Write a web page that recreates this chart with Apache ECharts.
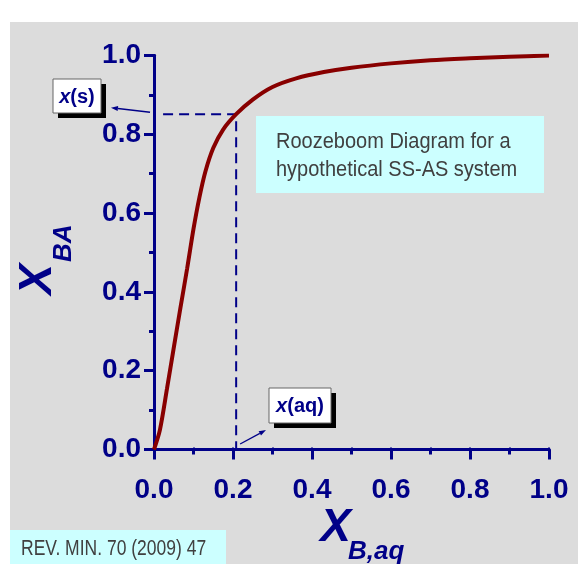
<!DOCTYPE html>
<html>
<head>
<meta charset="utf-8">
<script src="https://cdn.jsdelivr.net/npm/echarts@6/dist/echarts.min.js"></script>
<style>
html,body{margin:0;padding:0;background:#fff;}
#c{width:578px;height:564px;}
</style>
</head>
<body>
<div id="c"></div>
<script>
// ---- data ----
const xValues = [0, 0.015, 0.033, 0.05, 0.067, 0.084, 0.1, 0.115, 0.13, 0.15, 0.175, 0.208, 0.25, 0.3, 0.36, 0.43, 0.5, 0.6, 0.7, 0.8, 0.9, 1.0];
const yValues = [0, 0.05, 0.155, 0.258, 0.36, 0.46, 0.56, 0.64, 0.705, 0.765, 0.812, 0.851, 0.888, 0.92, 0.942, 0.958, 0.969, 0.98, 0.988, 0.993, 0.997, 1.0];
const xTickLabels = ['0.0', '0.2', '0.4', '0.6', '0.8', '1.0'];
const yTickLabels = ['0.0', '0.2', '0.4', '0.6', '0.8', '1.0'];
const guideX = 0.208;      // x(aq)
const guideY = 0.851;      // x(s)
const guideStartX = 0.023;
const sArrow = [[-0.010, 0.856], [-0.109, 0.8675]];   // tail, head
const aqArrow = [[0.218, 0.014], [0.2835, 0.0495]];   // tail, head
const noteLines = ['Roozeboom Diagram for a', 'hypothetical SS-AS system'];
const sourceText = 'REV. MIN. 70 (2009) 47';

const NAVY = '#000088';
const GRAY = '#dcdcdc';
const CURVE = '#880000';
const FONT = '"Liberation Sans", Arial, sans-serif';

const chart = echarts.init(document.getElementById('c'), null, {renderer: 'canvas'});

const curveData = xValues.map((x, i) => [x, yValues[i]]);

function mainAxis(pos, labels, margin) {
  return {
    type: 'value', min: 0, max: 1, interval: 0.2, position: pos,
    axisLine: {lineStyle: {color: NAVY, width: 3}},
    axisTick: {length: 10, lineStyle: {color: NAVY, width: 3}},
    minorTick: {show: true, splitNumber: 2, length: 5, lineStyle: {color: NAVY, width: 3}},
    splitLine: {show: false},
    axisLabel: {
      formatter: (v) => labels[Math.round(v / 0.2)],
      fontSize: 28, fontWeight: 'bold', color: NAVY, fontFamily: FONT, margin: margin
    }
  };
}
function frameAxis(pos) {
  return {
    type: 'value', min: 0, max: 1, interval: 0.1, position: pos,
    axisLine: {lineStyle: {color: NAVY, width: 3}},
    axisTick: {length: 2, lineStyle: {color: NAVY, width: 2}},
    splitLine: {show: false},
    axisLabel: {show: false}
  };
}

chart.setOption({
  animation: false,
  backgroundColor: GRAY,
  grid: {left: 154, top: 55.5, width: 395, height: 394},
  xAxis: [mainAxis('bottom', xTickLabels, 27), frameAxis('top')],
  yAxis: [mainAxis('left', yTickLabels, 13), frameAxis('right')],
  series: [
    {
      type: 'line', data: curveData, smooth: 0.3,
      showSymbol: false, symbol: 'none', z: 5,
      lineStyle: {color: CURVE, width: 4}
    },
    {
      type: 'line', data: [[guideStartX, guideY], [guideX, guideY], [guideX, 0]],
      showSymbol: false, symbol: 'none', z: 3,
      lineStyle: {color: NAVY, width: 2, type: [10, 6]}
    }
  ]
});

function px(p) { return chart.convertToPixel({gridIndex: 0}, p); }
function arrow(tail, head) {
  const a = px(tail), b = px(head);
  const dx = b[0] - a[0], dy = b[1] - a[1];
  const L = Math.sqrt(dx * dx + dy * dy), ux = dx / L, uy = dy / L;
  const hl = 7, hw = 2.5;
  const base = [b[0] - ux * hl, b[1] - uy * hl];
  return [
    {type: 'line', shape: {x1: a[0], y1: a[1], x2: base[0], y2: base[1]}, style: {stroke: NAVY, lineWidth: 1.3}, z: 20},
    {type: 'polygon', shape: {points: [b, [base[0] - uy * hw, base[1] + ux * hw], [base[0] + uy * hw, base[1] - ux * hw]]}, style: {fill: NAVY}, z: 20}
  ];
}
function labelBox(x, y, w, h, text) {
  return [
    {type: 'rect', shape: {x: x + 5, y: y + 5, width: w, height: h}, style: {fill: '#000'}, z: 20},
    {type: 'rect', shape: {x: x, y: y, width: w, height: h}, style: {fill: '#fff', stroke: '#666', lineWidth: 1}, z: 21},
    {type: 'text', x: x + w / 2, y: y + h / 2 + 1, z: 22, style: {
      text: text, align: 'center', verticalAlign: 'middle',
      rich: {
        i: {fontStyle: 'italic', fontWeight: 'bold', fontSize: 20, fontFamily: FONT, fill: NAVY},
        b: {fontWeight: 'bold', fontSize: 20, fontFamily: FONT, fill: NAVY}
      }
    }}
  ];
}

const g = [];
// white margins
g.push({type: 'rect', shape: {x: 0, y: 0, width: 578, height: 22}, style: {fill: '#fff'}, z: -1});
g.push({type: 'rect', shape: {x: 0, y: 0, width: 10, height: 564}, style: {fill: '#fff'}, z: -1});
// note box
g.push({type: 'rect', shape: {x: 256, y: 116, width: 288, height: 77}, style: {fill: '#ccffff'}, z: 10});
noteLines.forEach((t, i) => g.push({type: 'text', x: 276, y: 142.5 + i * 27.5, scaleY: 1.06, z: 11,
  style: {text: t, fontSize: 20, fontFamily: FONT, fill: '#404040', align: 'left', verticalAlign: 'middle'}}));
// source box
g.push({type: 'rect', shape: {x: 10, y: 530, width: 216, height: 34}, style: {fill: '#ccffff'}, z: 10});
g.push({type: 'text', x: 21, y: 549, scaleY: 1.22, z: 11,
  style: {text: sourceText, fontSize: 17.5, fontFamily: FONT, fill: '#404040', align: 'left', verticalAlign: 'middle'}});
// label boxes
g.push(...labelBox(53, 79, 48, 34, '{i|x}{b|(s)}'));
g.push(...labelBox(269, 388, 62, 35, '{i|x}{b|(aq)}'));
// arrows
g.push(...arrow(sArrow[0], sArrow[1]));
g.push(...arrow(aqArrow[0], aqArrow[1]));
// axis names
g.push({type: 'text', x: 351, y: 528, z: 11, style: {text: 'X', fontSize: 46, fontWeight: 'bold', fontStyle: 'italic', fontFamily: FONT, fill: NAVY, align: 'right', verticalAlign: 'middle'}});
g.push({type: 'text', x: 348, y: 552, z: 11, style: {text: 'B,aq', fontSize: 26, fontWeight: 'bold', fontStyle: 'italic', fontFamily: FONT, fill: NAVY, align: 'left', verticalAlign: 'middle'}});
g.push({type: 'group', x: 38, y: 262, rotation: Math.PI / 2, z: 11, children: [
  {type: 'text', x: -2, y: 0, style: {text: 'X', fontSize: 46, fontWeight: 'bold', fontStyle: 'italic', fontFamily: FONT, fill: NAVY, align: 'right', verticalAlign: 'middle'}},
  {type: 'text', x: 0, y: 26, style: {text: 'BA', fontSize: 26, fontWeight: 'bold', fontStyle: 'italic', fontFamily: FONT, fill: NAVY, align: 'left', verticalAlign: 'middle'}}
]});

chart.setOption({graphic: g});
</script>
</body>
</html>
